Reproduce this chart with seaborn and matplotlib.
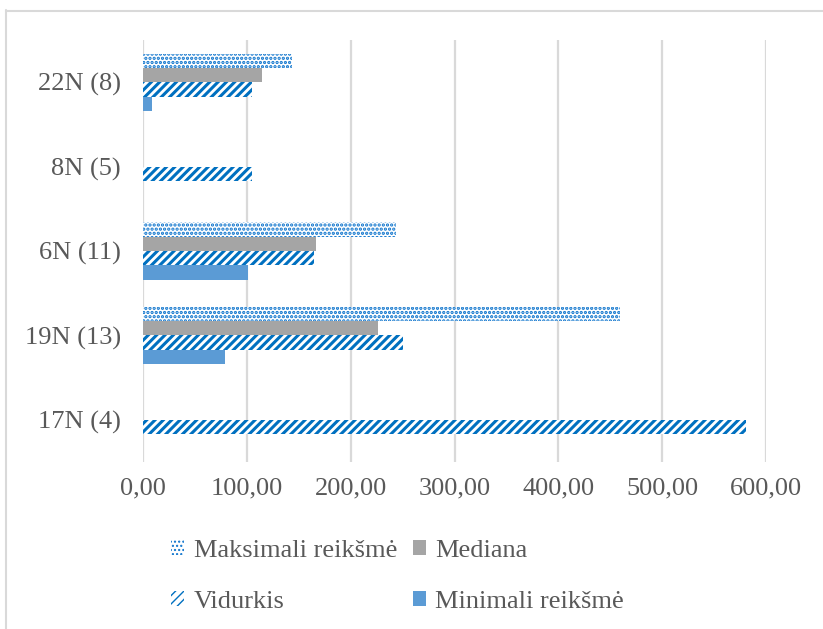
import numpy as np
import pandas as pd
import matplotlib
matplotlib.use("Agg")
import matplotlib.pyplot as plt
import seaborn as sns
from matplotlib.patches import Patch
from matplotlib.lines import Line2D
from matplotlib.ticker import FuncFormatter

# data (top to bottom)
categories = ["22N (8)", "8N (5)", "6N (11)", "19N (13)", "17N (4)"]
series = ["Maksimali reikšmė", "Mediana", "Vidurkis", "Minimali reikšmė"]
maksimali = [143.5, np.nan, 243.5, 459.5, np.nan]
mediana = [115.0, np.nan, 167.0, 226.0, np.nan]
vidurkis = [105.0, 104.5, 164.5, 250.5, 581.0]
minimali = [9.0, np.nan, 101.0, 79.0, np.nan]
x_ticks = [0, 100, 200, 300, 400, 500, 600]

df = pd.DataFrame({
    "kategorija": categories * 4,
    "serija": sum([[s] * len(categories) for s in series], []),
    "reiksme": maksimali + mediana + vidurkis + minimali,
})

sns.set_theme(style="white")
plt.rcParams["font.family"] = ["Liberation Serif", "DejaVu Serif"]
TXT = "#595959"

styles = {
    "Maksimali reikšmė": dict(facecolor="white", edgecolor="#0A72CC", hatch="....", hlw=1.6),
    "Mediana": dict(facecolor="#A5A5A5", edgecolor="#A5A5A5", hatch=None, hlw=1.0),
    "Vidurkis": dict(facecolor="white", edgecolor="#0070C0", hatch="////", hlw=2.2),
    "Minimali reikšmė": dict(facecolor="#5B9BD5", edgecolor="#5B9BD5", hatch=None, hlw=1.0),
}

fig = plt.figure(figsize=(8.23, 6.29), dpi=100)
ax = fig.add_axes([143 / 823, 1 - 462 / 629, (766 - 143) / 823, (462 - 40) / 629])

sns.barplot(data=df, x="reiksme", y="kategorija", hue="serija",
            order=categories, hue_order=series, orient="h",
            width=0.68, gap=0, linewidth=0, legend=False, ax=ax)


def style_patch(p, name):
    st = styles[name]
    p.set_facecolor(st["facecolor"])
    p.set_edgecolor(st["edgecolor"])
    p.set_linewidth(0)
    if st["hatch"]:
        p.set_hatch(st["hatch"])
        if hasattr(p, "set_hatch_linewidth"):
            p.set_hatch_linewidth(st["hlw"])


for cont, name in zip(ax.containers, series):
    for bar in cont:
        style_patch(bar, name)

ax.set_xlim(0, 600)
ax.set_ylim(4.5, -0.5)
ax.set_xticks(x_ticks)
ax.xaxis.set_major_formatter(FuncFormatter(lambda v, p: f"{v:.2f}".replace(".", ",")))
ax.grid(axis="x", color="#D9D9D9", linewidth=1.6)
ax.set_axisbelow(True)
for s in ax.spines.values():
    s.set_visible(False)
ax.tick_params(axis="both", length=0, labelsize=19, labelcolor=TXT)
ax.tick_params(axis="x", pad=11)
ax.tick_params(axis="y", pad=16)
ax.set_xlabel("")
ax.set_ylabel("")

# legend (two columns, filled column-wise)
leg_order = ["Maksimali reikšmė", "Vidurkis", "Mediana", "Minimali reikšmė"]
handles = []
for name in leg_order:
    h = Patch(label=name)
    style_patch(h, name)
    handles.append(h)
leg = fig.legend(handles=handles, loc="center", bbox_to_anchor=(0.483, 0.083),
                 ncol=2, frameon=False, fontsize=19, handlelength=0.5,
                 handleheight=0.5, handletextpad=0.35, columnspacing=0.6,
                 labelspacing=1.1)
for t in leg.get_texts():
    t.set_color(TXT)

# chart frame (Excel-like border, cut at right/bottom)
fig.add_artist(Line2D([5.5 / 823, 5.5 / 823], [0, 1 - 10 / 629],
                      color="#D9D9D9", linewidth=1.5, transform=fig.transFigure))
fig.add_artist(Line2D([5.5 / 823, 1], [1 - 10.5 / 629, 1 - 10.5 / 629],
                      color="#D9D9D9", linewidth=1.5, transform=fig.transFigure))

fig.savefig("out.png", dpi=100)
